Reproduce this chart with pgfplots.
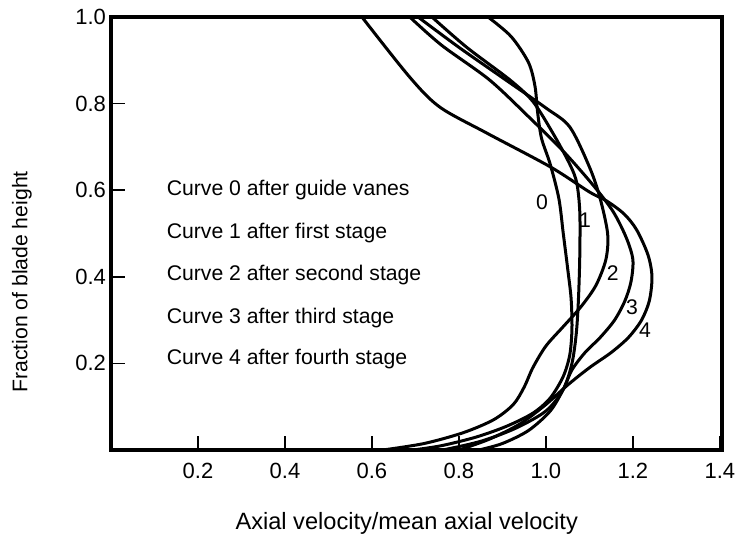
\documentclass[border=0pt]{standalone}
\usepackage{fontspec}
\setmainfont{Liberation Sans}
\usepackage{pgfplots}
\pgfplotsset{compat=1.18}
\newcommand\lbl{\fontsize{10.6}{12}\selectfont}
\begin{document}
\begin{tikzpicture}
\useasboundingbox (-55.5pt,-43.5pt) rectangle (315pt,225pt);
\begin{axis}[
    at={(0,0)}, anchor=south west,
    scale only axis, width=305.5pt, height=216.5pt,
    xmin=0, xmax=1.405, ymin=0, ymax=1,
    xtick={0.2,0.4,0.6,0.8,1.0,1.2,1.4},
    ytick={0.2,0.4,0.6,0.8,1.0},
    tick pos=left, tick align=inside,
    major tick length=7pt,
    every tick/.style={black, line width=0.8pt},
    axis line style={line width=1.6pt},
    tick label style={font=\fontsize{11}{12}\selectfont, /pgf/number format/fixed,
        /pgf/number format/fixed zerofill, /pgf/number format/precision=1,
        /pgf/number format/assume math mode=true},
    xticklabel style={yshift=-3pt},
    yticklabel style={xshift=1pt},
    xlabel={Axial velocity/mean axial velocity},
    ylabel={Fraction of blade height},
    xlabel style={font=\fontsize{11.8}{13}\selectfont, at={(axis description cs:0.484,-0.169)}, anchor=center},
    ylabel style={font=\lbl, at={(axis description cs:-0.146,0.388)}, anchor=center},
    clip=false,
]
% curve 0: after guide vanes
\addplot[black, line width=1.5pt, smooth] coordinates {
(0.694,0) (0.76,0.01) (0.84,0.03) (0.91,0.055) (0.97,0.085) (1.01,0.12)
(1.04,0.17) (1.055,0.22) (1.06,0.28) (1.058,0.35) (1.05,0.42) (1.04,0.5)
(1.03,0.58) (1.01,0.66) (0.99,0.72) (0.981,0.78) (0.975,0.84) (0.96,0.895)
(0.92,0.955) (0.867,1.0)};
% curve 1: after first stage
\addplot[black, line width=1.5pt, smooth] coordinates {
(0.763,0) (0.85,0.02) (0.93,0.05) (1.0,0.09) (1.04,0.14) (1.06,0.2)
(1.07,0.27) (1.075,0.35) (1.078,0.45) (1.078,0.55) (1.071,0.617)
(1.055,0.66) (1.016,0.732) (0.97,0.805) (0.917,0.855) (0.818,0.93) (0.738,1.0)};
% curve 2: after second stage
\addplot[black, line width=1.5pt, smooth] coordinates {
(0.625,0) (0.72,0.015) (0.81,0.04) (0.88,0.07) (0.925,0.105) (0.95,0.145)
(0.97,0.19) (1.0,0.24) (1.04,0.285) (1.08,0.33) (1.115,0.38) (1.138,0.44)
(1.142,0.5) (1.124,0.584) (1.10,0.654) (1.055,0.746) (1.0,0.79) (0.9,0.86)
(0.8,0.93) (0.706,1.0)};
% curve 3: after third stage
\addplot[black, line width=1.5pt, smooth] coordinates {
(0.846,0) (0.90,0.015) (0.96,0.045) (1.01,0.09) (1.04,0.14) (1.06,0.185)
(1.09,0.225) (1.125,0.26) (1.158,0.30) (1.182,0.345) (1.196,0.39) (1.2,0.44)
(1.185,0.49) (1.155,0.55) (1.11,0.61) (1.04,0.69) (0.96,0.77) (0.87,0.855)
(0.76,0.935) (0.687,1.0)};
% curve 4: after fourth stage
\addplot[black, line width=1.5pt, smooth] coordinates {
(0.80,0) (0.87,0.025) (0.94,0.06) (1.0,0.105) (1.05,0.15) (1.10,0.19)
(1.15,0.225) (1.19,0.26) (1.22,0.30) (1.238,0.345) (1.244,0.40) (1.235,0.45)
(1.209,0.508) (1.18,0.545) (1.14,0.575) (1.10,0.596) (1.01,0.654) (0.864,0.732)
(0.756,0.792) (0.687,0.861) (0.577,1.0)};
\node[font=\lbl, anchor=west] at (axis cs:0.112,0.60) {Curve 0 after guide vanes};
\node[font=\lbl, anchor=west] at (axis cs:0.112,0.50) {Curve 1 after first stage};
\node[font=\lbl, anchor=west] at (axis cs:0.112,0.404) {Curve 2 after second stage};
\node[font=\lbl, anchor=west] at (axis cs:0.112,0.305) {Curve 3 after third stage};
\node[font=\lbl, anchor=west] at (axis cs:0.112,0.210) {Curve 4 after fourth stage};
\node[font=\lbl] at (axis cs:0.991,0.573) {0};
\node[font=\lbl] at (axis cs:1.09,0.531) {1};
\node[font=\lbl] at (axis cs:1.154,0.409) {2};
\node[font=\lbl] at (axis cs:1.198,0.330) {3};
\node[font=\lbl] at (axis cs:1.228,0.277) {4};
\end{axis}
\end{tikzpicture}
\end{document}
